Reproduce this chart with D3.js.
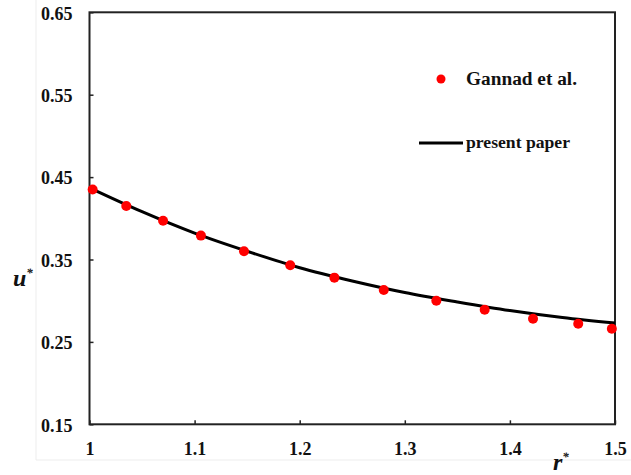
<!DOCTYPE html>
<html>
<head>
<meta charset="utf-8">
<script src="https://cdn.jsdelivr.net/npm/d3@7"></script>
<style>
  html, body { margin: 0; padding: 0; background: #fff; }
  svg { display: block; }
  svg text { font-family: "Liberation Serif", "DejaVu Serif", serif; }
</style>
</head>
<body>
<script>
// Dimensionless velocity u* against radius r*
const refR = [1.003, 1.035, 1.070, 1.106, 1.147, 1.191, 1.233, 1.280, 1.330, 1.376, 1.422, 1.465, 1.497];
const refU = [0.435, 0.415, 0.397, 0.379, 0.360, 0.343, 0.328, 0.313, 0.300, 0.289, 0.278, 0.272, 0.266];

const curveR = [1.00, 1.05, 1.10, 1.15, 1.20, 1.25, 1.30, 1.35, 1.40, 1.45, 1.50];
const curveU = [0.437, 0.408, 0.382, 0.360, 0.340, 0.324, 0.310, 0.2985, 0.288, 0.2795, 0.2728];

const xTicks = [1, 1.1, 1.2, 1.3, 1.4, 1.5];
const xTickLabels = ["1", "1.1", "1.2", "1.3", "1.4", "1.5"];
const yTicks = [0.15, 0.25, 0.35, 0.45, 0.55, 0.65];
const yTickLabels = ["0.15", "0.25", "0.35", "0.45", "0.55", "0.65"];

const seriesNames = ["Gannad et al.", "present paper"];

const W = 631, H = 475;
const plot = { left: 89.5, right: 615, top: 12.3, bottom: 424.3 };
const serif = "Liberation Serif";

const svg = d3.select("body").append("svg")
  .attr("width", W).attr("height", H);

// faint outer chart frame
svg.append("path")
  .attr("d", `M36,0 V460 H631`)
  .attr("fill", "none").attr("stroke", "#ededed").attr("stroke-width", 1);

const x = d3.scaleLinear().domain([1, 1.5]).range([plot.left, plot.right]);
const y = d3.scaleLinear().domain([0.15, 0.65]).range([plot.bottom, plot.top]);

// axes with short inward ticks
const xAxis = d3.axisBottom(x).tickValues(xTicks)
  .tickFormat((d, i) => xTickLabels[i]).tickSizeInner(-4).tickSizeOuter(0).tickPadding(18);
const yAxis = d3.axisLeft(y).tickValues(yTicks)
  .tickFormat((d, i) => yTickLabels[i]).tickSizeInner(-4).tickSizeOuter(0).tickPadding(17);

const gx = svg.append("g").attr("transform", `translate(0,${plot.bottom})`).call(xAxis);
const gy = svg.append("g").attr("transform", `translate(${plot.left},0)`).call(yAxis);

[gx, gy].forEach(g => {
  g.attr("font-family", serif).attr("font-size", 18);
  g.select(".domain").remove();
  g.selectAll(".tick line").attr("stroke", "#222").attr("stroke-width", 1.5);
  g.selectAll(".tick text")
    .attr("fill", "#111")
    .attr("font-family", serif)
    .attr("font-weight", "bold")
    .attr("font-size", 18);
});
gy.selectAll(".tick text").attr("dy", "0.38em");

// plot frame
svg.append("rect")
  .attr("x", plot.left).attr("y", plot.top)
  .attr("width", plot.right - plot.left).attr("height", plot.bottom - plot.top)
  .attr("fill", "none").attr("stroke", "#222").attr("stroke-width", 2);

// model curve
const curveData = curveR.map((r, i) => [r, curveU[i]]);
svg.append("path")
  .datum(curveData)
  .attr("d", d3.line().x(d => x(d[0])).y(d => y(d[1])).curve(d3.curveMonotoneX))
  .attr("fill", "none").attr("stroke", "#000").attr("stroke-width", 3);

// reference points
svg.append("g").selectAll("circle")
  .data(refR.map((r, i) => [r, refU[i]]))
  .join("circle")
  .attr("cx", d => x(d[0])).attr("cy", d => y(d[1]))
  .attr("r", 5).attr("fill", "#ff0000");

// legend
const lg = svg.append("g");
lg.append("circle").attr("cx", 441).attr("cy", 79).attr("r", 4.5).attr("fill", "#ff0000");
lg.append("text").attr("x", 466).attr("y", 85)
  .attr("textLength", 111).attr("lengthAdjust", "spacingAndGlyphs")
  .attr("font-family", serif).attr("font-weight", "bold").attr("font-size", 18)
  .attr("fill", "#111").text(seriesNames[0]);
lg.append("line").attr("x1", 419).attr("x2", 463).attr("y1", 143).attr("y2", 143)
  .attr("stroke", "#000").attr("stroke-width", 3);
lg.append("text").attr("x", 466).attr("y", 148)
  .attr("textLength", 104).attr("lengthAdjust", "spacingAndGlyphs")
  .attr("font-family", serif).attr("font-weight", "bold").attr("font-size", 17)
  .attr("fill", "#111").text(seriesNames[1]);

// axis titles
const uT = svg.append("text").attr("x", 13).attr("y", 286)
  .attr("font-family", serif).attr("font-weight", "bold").attr("font-style", "italic")
  .attr("font-size", 24).attr("fill", "#111");
uT.append("tspan").text("u");
uT.append("tspan").attr("dy", -9).attr("font-size", 13).text("*");

const rT = svg.append("text").attr("x", 553).attr("y", 470)
  .attr("font-family", serif).attr("font-weight", "bold").attr("font-style", "italic")
  .attr("font-size", 24).attr("fill", "#111");
rT.append("tspan").text("r");
rT.append("tspan").attr("dy", -9).attr("font-size", 13).text("*");
</script>
</body>
</html>
